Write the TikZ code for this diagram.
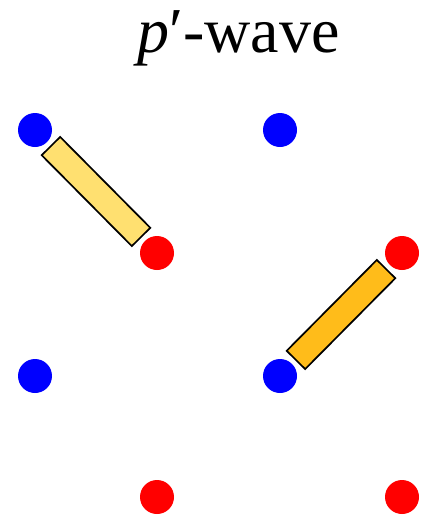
\documentclass[tikz,border=0pt]{standalone}
\usepackage{fontspec}
\setmainfont{Liberation Serif}
\usetikzlibrary{positioning,calc}
\definecolor{siteblue}{HTML}{0000FF}
\definecolor{sitered}{HTML}{FF0000}
\definecolor{lightbond}{HTML}{FFE070}
\definecolor{darkbond}{HTML}{FFBC1A}
\tikzset{
  site/.style={
    circle, inner sep=0pt, minimum size=34pt, draw=none, fill=#1
  },
  site/.default=siteblue,
  bond/.style={
    rectangle, draw=black, line width=1.7pt, inner sep=0pt,
    minimum width=128pt, minimum height=26pt, fill=#1, sloped
  },
  bond/.default=lightbond
}

\begin{document}
\begin{tikzpicture}[x=1pt,y=-1pt]
\useasboundingbox (0,0) rectangle (433,517);
\node[anchor=base, inner sep=0pt, font=\fontsize{64}{70}\selectfont] (title) at (238.5,52) {\textit{p}′-wave};

\node[site=siteblue] (blueA) at (35,130) {};
\node[site=siteblue] (blueB) at (280,130) {};
\node[site=siteblue] (blueC) at (35,376) {};
\node[site=siteblue] (blueD) at (280,376) {};
\node[site=sitered] (redA) at (157,253) {};
\node[site=sitered] (redB) at (402,253) {};
\node[site=sitered] (redC) at (157,497) {};
\node[site=sitered] (redD) at (402,497) {};

\path (blueA) -- node[bond=lightbond] (bondA) {} (redA);
\path (blueD) -- node[bond=darkbond] (bondB) {} (redB);
\end{tikzpicture}
\end{document}
